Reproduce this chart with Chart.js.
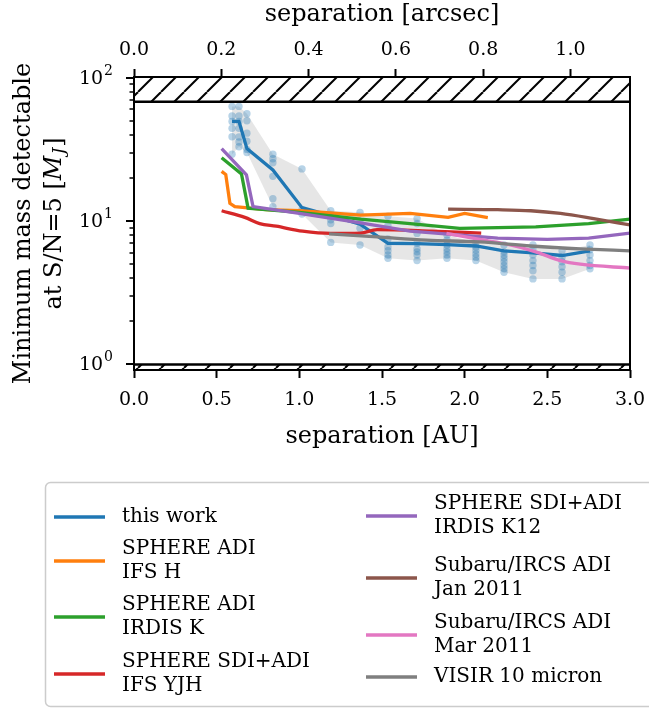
<!DOCTYPE html>
<html>
<head>
<meta charset="utf-8">
<script src="https://cdn.jsdelivr.net/npm/chart.js"></script>
<style>
  html, body { margin: 0; padding: 0; background: #fff; }
</style>
</head>
<body>
<canvas id="chart" width="649" height="709"></canvas>
<script>
// separations (AU) of the "this work" sample columns and the masses found there
const sepCols = [0.593, 0.635, 0.683, 0.84, 1.016, 1.19, 1.367, 1.536, 1.712, 1.893, 2.068, 2.238, 2.413, 2.589, 2.758];
const massCols = [
    [63, 54, 49.5, 44.3, 38.7, 29.2],
    [63, 54, 49.5, 44.3, 38.5, 35.6, 33],
    [56, 50, 41, 36, 31.6, 30],
    [29.2, 27.2, 25.5, 20.5, 14.3, 12.6],
    [23.1, 12.0, 11.2],
    [11.8, 11.0, 10.2, 9.6, 7.1],
    [11.5, 10.0, 8.9, 6.8],
    [10.8, 9.3, 7.5, 6.6, 6.2, 5.8, 5.5],
    [10.4, 9.6, 8.2, 7.0, 6.4, 6.1, 5.8, 5.3],
    [8.0, 7.35, 6.8, 6.4, 6.1, 5.8, 5.5],
    [7.1, 6.6, 6.25, 5.9, 5.6, 5.3],
    [6.8, 6.1, 5.8, 5.5, 5.2, 4.9, 4.65, 4.4],
    [6.8, 6.4, 5.8, 5.3, 4.9, 4.5, 3.95],
    [6.2, 5.6, 5.2, 4.8, 4.4, 3.95],
    [6.8, 6.3, 5.8, 5.3, 4.9, 4.65]
];
const thisWorkMass = [49.5, 49.5, 32, 22.7, 12.4, 10.9, 9.5, 7.0, 6.95, 6.85, 6.7, 6.2, 6.0, 5.75, 6.2];

const ifsHSep = [0.53, 0.555, 0.58, 0.61, 0.8, 1.0, 1.37, 1.67, 1.9, 2.0, 2.14];
const ifsHMass = [22.2, 21.1, 13.3, 12.6, 12.0, 11.8, 11.0, 11.3, 10.6, 11.3, 10.55];

const irdisKSep = [0.53, 0.65, 0.69, 1.0, 1.37, 1.67, 1.97, 2.43, 2.75, 3.0];
const irdisKMass = [27.6, 21.3, 12.3, 11.5, 10.3, 9.6, 8.9, 9.1, 9.6, 10.3];

const yjhSep = [0.53, 0.67, 0.76, 0.86, 1.02, 1.19, 1.37, 1.47, 1.8, 2.1];
const yjhMass = [11.8, 10.6, 9.6, 9.2, 8.5, 8.2, 8.25, 8.7, 8.5, 8.25];

const k12Sep = [0.53, 0.68, 0.72, 1.0, 1.37, 1.67, 1.9, 2.2, 2.5, 2.75, 3.0];
const k12Mass = [32, 21, 12.6, 11.3, 9.7, 8.5, 8.1, 7.6, 7.45, 7.6, 8.25];

const jan2011Sep = [1.90, 2.2, 2.4, 2.58, 2.78, 3.0];
const jan2011Mass = [12.1, 12.0, 11.8, 11.3, 10.4, 9.4];

const mar2011Sep = [1.89, 2.09, 2.23, 2.43, 2.58, 2.7, 3.0];
const mar2011Mass = [8.2, 7.45, 7.0, 6.1, 5.3, 5.0, 4.7];

const visirSep = [1.18, 1.47, 1.77, 2.09, 2.4, 2.7, 3.0];
const visirMass = [8.15, 7.75, 7.35, 7.15, 6.7, 6.4, 6.2];

const upperLimit = 68;   // hatched above
const lowerLimit = 1.0;  // hatched below
const distancePc = 2.64; // AU per arcsec

const xTicksAU = [0, 0.5, 1.0, 1.5, 2.0, 2.5, 3.0];
const xTicksArcsec = [0, 0.2, 0.4, 0.6, 0.8, 1.0];
const yMajorTicks = [1, 10, 100];
const yMinorTicks = [2, 3, 4, 5, 6, 7, 8, 9, 20, 30, 40, 50, 60, 70, 80, 90];

const xMin = 0, xMax = 3, yMin = 0.915, yMax = 101;

const serif = "'DejaVu Serif', serif";

const pts = (xs, ys) => xs.map((x, i) => ({ x: x, y: ys[i] }));

const canvas = document.getElementById('chart');
const ctx = canvas.getContext('2d');

function hatchPattern() {
    const s = 23;
    const tile = document.createElement('canvas');
    tile.width = s; tile.height = s;
    const g = tile.getContext('2d');
    g.strokeStyle = '#000';
    g.lineWidth = 2;
    [-1, 0, 1].forEach(k => {
        g.beginPath();
        g.moveTo(k * s, s);
        g.lineTo(k * s + s, 0);
        g.stroke();
    });
    return ctx.createPattern(tile, 'repeat');
}
const hatch = hatchPattern();

function curve(label, color, xs, ys, order, smooth) {
    return {
        label: label,
        data: pts(xs, ys),
        borderColor: color,
        backgroundColor: color,
        borderWidth: 3.3,
        pointRadius: 0,
        tension: 0,
        cubicInterpolationMode: smooth ? 'monotone' : 'default',
        order: order,
        inLegend: true
    };
}

const scatterPts = sepCols.flatMap((x, i) => massCols[i].map(y => ({ x: x, y: y })));
const bandHigh = sepCols.map((x, i) => ({ x: x, y: Math.max(...massCols[i]) }));
const bandLow = sepCols.map((x, i) => ({ x: x, y: Math.min(...massCols[i]) }));

const datasets = [
    curve('this work', '#1f77b4', sepCols, thisWorkMass, 8, false),
    curve('SPHERE ADI\nIFS H', '#ff7f0e', ifsHSep, ifsHMass, 7, false),
    curve('SPHERE ADI\nIRDIS K', '#2ca02c', irdisKSep, irdisKMass, 6, false),
    curve('SPHERE SDI+ADI\nIFS YJH', '#d62728', yjhSep, yjhMass, 5, true),
    curve('SPHERE SDI+ADI\nIRDIS K12', '#9467bd', k12Sep, k12Mass, 4, false),
    curve('Subaru/IRCS ADI\nJan 2011', '#8c564b', jan2011Sep, jan2011Mass, 3, true),
    curve('Subaru/IRCS ADI\nMar 2011', '#e377c2', mar2011Sep, mar2011Mass, 2, true),
    curve('VISIR 10 micron', '#7f7f7f', visirSep, visirMass, 1, true),
    {
        label: 'samples', data: scatterPts, showLine: false,
        pointRadius: 3.7, pointBackgroundColor: 'rgba(31,119,180,0.32)',
        pointBorderWidth: 0, pointBorderColor: 'rgba(0,0,0,0)', order: 9
    },
    { label: 'bandHigh', data: bandHigh, borderWidth: 0, pointRadius: 0, order: 11 },
    {
        label: 'bandLow', data: bandLow, borderWidth: 0, pointRadius: 0, order: 10,
        fill: { target: 9 }, backgroundColor: 'rgba(128,128,128,0.2)'
    },
    {
        label: 'upper', data: [{ x: xMin, y: upperLimit }, { x: xMax, y: upperLimit }],
        borderColor: '#000', borderWidth: 2.5, pointRadius: 0, fill: 'end',
        backgroundColor: hatch, order: 0
    },
    {
        label: 'lower', data: [{ x: xMin, y: lowerLimit }, { x: xMax, y: lowerLimit }],
        borderColor: '#000', borderWidth: 2.5, pointRadius: 0, fill: 'start',
        backgroundColor: hatch, order: 0
    }
];

const legendLayout = [
    { lineX: 54, textX: 122, ys: [517, 561, 617, 674] },
    { lineX: 366, textX: 434, ys: [516, 578, 635, 677] }
];

const decorations = {
    id: 'decorations',
    afterDraw(chart) {
        const c = chart.ctx;
        const a = chart.chartArea;
        const y = chart.scales.y;
        c.save();
        // frame
        c.strokeStyle = '#000';
        c.lineWidth = 2;
        c.strokeRect(a.left, a.top, a.right - a.left, a.bottom - a.top);
        // y ticks, major and minor, and power-of-ten labels
        c.fillStyle = '#000';
        c.textBaseline = 'middle';
        yMajorTicks.concat(yMinorTicks).forEach(v => {
            if (v < yMin || v > yMax) return;
            const py = Math.round(y.getPixelForValue(v));
            const major = yMajorTicks.includes(v);
            c.lineWidth = major ? 2 : 1.5;
            c.beginPath();
            c.moveTo(a.left, py);
            c.lineTo(a.left - (major ? 8 : 4.5), py);
            c.stroke();
            if (major) {
                const expo = String(Math.round(Math.log10(v)));
                c.textAlign = 'right';
                c.font = '14px ' + serif;
                const we = c.measureText(expo).width;
                c.fillText(expo, a.left - 21, py - 7);
                c.font = '19px ' + serif;
                c.fillText('10', a.left - 22 - we, py + 1);
            }
        });

        // axis titles
        c.textAlign = 'center';
        c.font = '24px ' + serif;
        const cx = (a.left + a.right) / 2;
        c.fillText('separation [AU]', cx, 437);
        c.fillText('separation [arcsec]', cx, 15);

        const cy = (a.top + a.bottom) / 2;
        c.save();
        c.translate(24, cy);
        c.rotate(-Math.PI / 2);
        c.fillText('Minimum mass detectable', 0, 0);
        c.restore();

        c.save();
        c.translate(55, cy);
        c.rotate(-Math.PI / 2);
        const s1 = 'at S/N=5 [';
        c.font = '24px ' + serif;
        const w1 = c.measureText(s1).width;
        const w4 = c.measureText(']').width;
        c.font = 'italic 24px ' + serif;
        const w2 = c.measureText('M').width;
        c.font = 'italic 17px ' + serif;
        const w3 = c.measureText('J').width;
        let x0 = -(w1 + w2 + w3 + w4 + 2) / 2;
        c.textAlign = 'left';
        c.font = '24px ' + serif;
        c.fillText(s1, x0, 0); x0 += w1;
        c.font = 'italic 24px ' + serif;
        c.fillText('M', x0, 0); x0 += w2 + 1;
        c.font = 'italic 17px ' + serif;
        c.fillText('J', x0, 5); x0 += w3 + 1;
        c.font = '24px ' + serif;
        c.fillText(']', x0, 0);
        c.restore();

        // legend
        c.beginPath();
        c.roundRect(45.5, 482.5, 640, 224, 5);
        c.fillStyle = '#fff';
        c.fill();
        c.strokeStyle = '#cccccc';
        c.lineWidth = 1.5;
        c.stroke();
        const entries = chart.data.datasets.filter(d => d.inLegend);
        c.font = '20px ' + serif;
        c.textAlign = 'left';
        c.textBaseline = 'middle';
        entries.forEach((d, i) => {
            const col = legendLayout[Math.floor(i / 4)];
            const ly = col.ys[i % 4];
            c.strokeStyle = d.borderColor;
            c.lineWidth = 3.3;
            c.beginPath();
            c.moveTo(col.lineX, ly);
            c.lineTo(col.lineX + 51, ly);
            c.stroke();
            const lines = d.label.split('\n');
            c.fillStyle = '#000';
            lines.forEach((t, k) => {
                const ty = ly + (k - (lines.length - 1) / 2) * 24.5;
                c.fillText(t, col.textX, ty);
            });
        });
        c.restore();
    }
};

// keep the end tick labels from pushing the plot area in
const noSidePadding = s => { s.paddingLeft = 0; s.paddingRight = 0; };

new Chart(ctx, {
    type: 'line',
    data: { datasets: datasets },
    options: {
        responsive: false,
        animation: false,
        layout: { padding: { left: 0, right: 19, top: 0, bottom: 709 - 370 - 80 } },
        plugins: { legend: { display: false }, tooltip: { enabled: false } },
        scales: {
            x: {
                type: 'linear', position: 'bottom', min: xMin, max: xMax,
                afterBuildTicks: s => { s.ticks = xTicksAU.map(v => ({ value: v })); },
                afterFit: s => { s.height = 80; noSidePadding(s); },
                grid: { drawOnChartArea: false, tickLength: 8, tickColor: '#000', tickWidth: 2 },
                border: { display: false },
                ticks: {
                    color: '#000', padding: 11, maxRotation: 0, autoSkip: false,
                    font: { family: serif, size: 19 },
                    callback: v => Number(v).toFixed(1)
                }
            },
            x2: {
                type: 'linear', position: 'top', min: xMin / distancePc, max: xMax / distancePc,
                afterBuildTicks: s => { s.ticks = xTicksArcsec.map(v => ({ value: v })); },
                afterFit: s => { s.height = 77; noSidePadding(s); },
                grid: { drawOnChartArea: false, tickLength: 8, tickColor: '#000', tickWidth: 2 },
                border: { display: false },
                ticks: {
                    color: '#000', padding: 8, maxRotation: 0, autoSkip: false,
                    font: { family: serif, size: 19 },
                    callback: v => Number(v).toFixed(1)
                }
            },
            y: {
                type: 'logarithmic', position: 'left', min: yMin, max: yMax,
                afterBuildTicks: s => { s.ticks = yMajorTicks.map(v => ({ value: v })); },
                afterFit: s => { s.width = 134; },
                grid: { drawOnChartArea: false, tickLength: 8, tickColor: 'rgba(0,0,0,0)' },
                border: { display: false },
                ticks: { padding: 10, callback: () => '' }
            }
        }
    },
    plugins: [decorations]
});
</script>
</body>
</html>
